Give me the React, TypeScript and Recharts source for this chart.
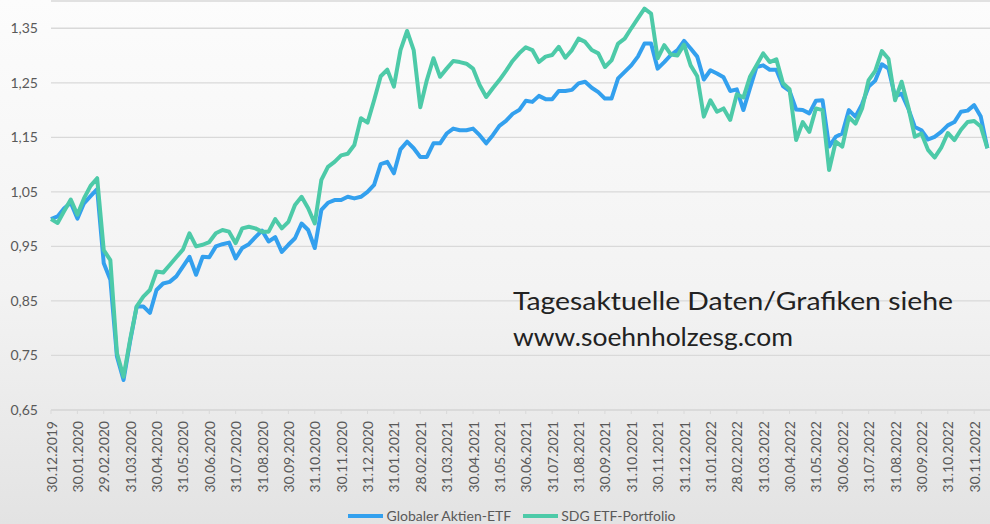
import { LineChart, Line, XAxis, YAxis, CartesianGrid, Legend } from "recharts";

// month-end tick labels (one every 4 weekly points)
const MONTH_LABELS = [
  "30.12.2019", "30.01.2020", "29.02.2020", "31.03.2020", "30.04.2020", "31.05.2020",
  "30.06.2020", "31.07.2020", "31.08.2020", "30.09.2020", "31.10.2020", "30.11.2020",
  "31.12.2020", "31.01.2021", "28.02.2021", "31.03.2021", "30.04.2021", "31.05.2021",
  "30.06.2021", "31.07.2021", "31.08.2021", "30.09.2021", "31.10.2021", "30.11.2021",
  "31.12.2021", "31.01.2022", "28.02.2022", "31.03.2022", "30.04.2022", "31.05.2022",
  "30.06.2022", "31.07.2022", "31.08.2022", "30.09.2022", "31.10.2022", "30.11.2022",
];

const Y_TICKS = [0.65, 0.75, 0.85, 0.95, 1.05, 1.15, 1.25, 1.35];

// weekly values
const GLOBAL_ETF = [
  1.0, 1.005, 1.02, 1.03, 1.001, 1.029, 1.042, 1.055, 0.919, 0.889,
  0.748, 0.705, 0.776, 0.84, 0.84, 0.828, 0.87, 0.882, 0.885, 0.895,
  0.913, 0.931, 0.898, 0.931, 0.93, 0.95, 0.954, 0.957, 0.928, 0.947,
  0.954, 0.967, 0.979, 0.959, 0.967, 0.94, 0.953, 0.965, 0.992, 0.98,
  0.947, 1.017, 1.03, 1.035, 1.035, 1.041, 1.038, 1.041, 1.05, 1.063,
  1.101, 1.105, 1.084, 1.128, 1.142, 1.13, 1.114, 1.114, 1.139, 1.139,
  1.157, 1.166, 1.163, 1.163, 1.166, 1.154, 1.139, 1.154, 1.171, 1.18,
  1.193, 1.2, 1.217, 1.215, 1.226, 1.22, 1.22, 1.235, 1.235, 1.237,
  1.249, 1.252, 1.241, 1.233, 1.221, 1.221, 1.258, 1.27, 1.282, 1.298,
  1.322, 1.322, 1.276, 1.288, 1.301, 1.31, 1.327, 1.313, 1.298, 1.256,
  1.273, 1.267, 1.26, 1.235, 1.238, 1.2, 1.24, 1.279, 1.282, 1.274,
  1.274, 1.244, 1.235, 1.201, 1.2, 1.194, 1.217, 1.218, 1.133, 1.151,
  1.157, 1.2, 1.188, 1.211, 1.243, 1.254, 1.284, 1.276, 1.225, 1.23,
  1.203, 1.169, 1.163, 1.146, 1.151, 1.16, 1.172, 1.178, 1.197, 1.199,
  1.209, 1.188, 1.13,
];

const SDG_ETF = [
  1.0, 0.993, 1.015, 1.036, 1.008, 1.038, 1.061, 1.075, 0.943, 0.925,
  0.754, 0.711, 0.779, 0.84, 0.858, 0.87, 0.904, 0.902, 0.916, 0.93,
  0.944, 0.974, 0.95, 0.953, 0.958, 0.974, 0.98, 0.977, 0.956, 0.983,
  0.986, 0.983, 0.977, 0.977, 1.0, 0.983, 0.995, 1.026, 1.041, 1.02,
  0.992, 1.072, 1.096, 1.105, 1.117, 1.12, 1.136, 1.185, 1.177, 1.218,
  1.262, 1.274, 1.243, 1.31, 1.345, 1.31, 1.205, 1.255, 1.295, 1.261,
  1.276, 1.29, 1.288, 1.285, 1.276, 1.246, 1.224, 1.24, 1.255, 1.272,
  1.29, 1.304, 1.315, 1.31, 1.288, 1.298, 1.301, 1.316, 1.296, 1.31,
  1.331, 1.325, 1.31, 1.304, 1.279, 1.291, 1.322, 1.331, 1.35, 1.368,
  1.386, 1.377, 1.295, 1.319, 1.302, 1.3, 1.32, 1.282, 1.262, 1.188,
  1.218, 1.197, 1.203, 1.182, 1.229, 1.223, 1.261, 1.282, 1.304, 1.288,
  1.293, 1.249, 1.238, 1.145, 1.178, 1.16, 1.203, 1.2, 1.09, 1.142,
  1.133, 1.187, 1.175, 1.203, 1.255, 1.272, 1.308, 1.294, 1.218, 1.252,
  1.206, 1.151, 1.157, 1.127, 1.113, 1.131, 1.158, 1.145, 1.164, 1.178,
  1.18, 1.17, 1.13,
];

const data = GLOBAL_ETF.map((v, i) => ({ i, global: v, sdg: SDG_ETF[i] }));

const FONT = "Lato, 'Open Sans', sans-serif";
const TEXT_GRAY = "#595959";
const GRID = "#d9d9d9";

function DateTick({ x, y, payload }: any) {
  const ty = y + 5;
  return (
    <text
      x={x}
      y={ty}
      transform={`rotate(-90, ${x}, ${ty})`}
      textAnchor="end"
      dominantBaseline="central"
      fontSize={14}
      fontFamily={FONT}
      fill={TEXT_GRAY}
    >
      {MONTH_LABELS[Math.round(payload.value / 4)]}
    </text>
  );
}

function LegendContent({ payload }: any) {
  return (
    <div
      style={{
        display: "flex",
        justifyContent: "center",
        gap: 12,
        height: 16,
        lineHeight: "16px",
        fontSize: 14,
        fontFamily: FONT,
        color: TEXT_GRAY,
        paddingLeft: 34,
      }}
    >
      {(payload || []).map((p: any) => (
        <span key={p.value} style={{ display: "flex", alignItems: "center" }}>
          <span
            style={{ display: "inline-block", width: 35, height: 3.5, background: p.color, marginRight: 3 }}
          />
          {p.value}
        </span>
      ))}
    </div>
  );
}

export default function App() {
  return (
    <div
      style={{
        position: "absolute",
        left: 0,
        top: 0,
        width: 990,
        height: 524,
        overflow: "hidden",
        background: "linear-gradient(180deg, #fcfcfc 0%, #f3f3f3 55%, #e3e3e3 100%)",
      }}
    >
      <LineChart width={990} height={524} data={data} margin={{ top: 1, right: 0, left: 0, bottom: 0 }}>
        <CartesianGrid vertical={false} stroke={GRID} strokeWidth={1.3} />
        <XAxis
          type="number"
          dataKey="i"
          domain={[0, 142.4]}
          ticks={MONTH_LABELS.map((_, m) => m * 4)}
          interval={0}
          height={98}
          tick={<DateTick />}
          tickSize={4}
          tickLine={{ stroke: GRID }}
          axisLine={{ stroke: GRID, strokeWidth: 1.3 }}
        />
        <YAxis
          domain={[0.65, 1.4]}
          ticks={Y_TICKS}
          width={51}
          axisLine={false}
          tickLine={false}
          tickMargin={7}
          tickFormatter={(v: number) => v.toFixed(2).replace(".", ",")}
          tick={{ fontSize: 14, fontFamily: FONT, fill: TEXT_GRAY }}
        />
        <Legend verticalAlign="bottom" content={<LegendContent />} />
        <Line
          type="linear"
          dataKey="global"
          name="Globaler Aktien-ETF"
          stroke="#33a0ee"
          strokeWidth={4}
          strokeLinejoin="round"
          dot={false}
          isAnimationActive={false}
        />
        <Line
          type="linear"
          dataKey="sdg"
          name="SDG ETF-Portfolio"
          stroke="#4dcaa8"
          strokeWidth={4}
          strokeLinejoin="round"
          dot={false}
          isAnimationActive={false}
        />
      </LineChart>
      <svg
        width={990}
        height={524}
        style={{ position: "absolute", left: 0, top: 0, pointerEvents: "none" }}
      >
        <text x={513} y={310} fontSize={25} fontFamily={FONT} fill="#222" textLength={440} lengthAdjust="spacingAndGlyphs">
          Tagesaktuelle Daten/Grafiken siehe
        </text>
        <text x={513} y={346} fontSize={25} fontFamily={FONT} fill="#222" textLength={280} lengthAdjust="spacingAndGlyphs">
          www.soehnholzesg.com
        </text>
      </svg>
    </div>
  );
}
